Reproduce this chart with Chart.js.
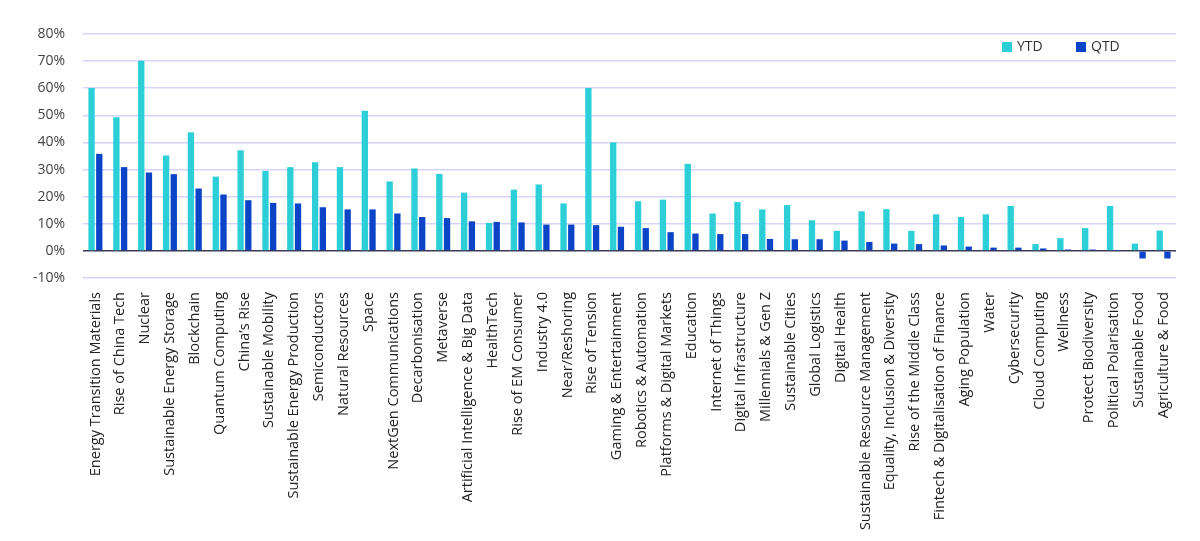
<!DOCTYPE html>
<html>
<head>
<meta charset="utf-8">
<script src="https://cdn.jsdelivr.net/npm/chart.js@4.4.0/dist/chart.umd.min.js"></script>
<style>
  html, body { margin: 0; padding: 0; background: #fff; }
  #wrap { width: 1200px; height: 541px; }
</style>
</head>
<body>
<div id="wrap"><canvas id="themesChart"></canvas></div>
<script>
const themes = [
  'Energy Transition Materials', 'Rise of China Tech', 'Nuclear', 'Sustainable Energy Storage',
  'Blockchain', 'Quantum Computing', 'China\u2019s Rise', 'Sustainable Mobility',
  'Sustainable Energy Production', 'Semiconductors', 'Natural Resources', 'Space',
  'NextGen Communications', 'Decarbonisation', 'Metaverse', 'Artificial Intelligence & Big Data',
  'HealthTech', 'Rise of EM Consumer', 'Industry 4.0', 'Near/Reshoring',
  'Rise of Tension', 'Gaming & Entertainment', 'Robotics & Automation', 'Platforms & Digital Markets',
  'Education', 'Internet of Things', 'Digital Infrastructure', 'Millennials & Gen Z',
  'Sustainable Cities', 'Global Logistics', 'Digital Health', 'Sustainable Resource Management',
  'Equality, Inclusion & Diversity', 'Rise of the Middle Class', 'Fintech & Digitalisation of Finance', 'Aging Population',
  'Water', 'Cybersecurity', 'Cloud Computing', 'Wellness',
  'Protect Biodiversity', 'Political Polarisation', 'Sustainable Food', 'Agriculture & Food'
];

const ytd = [
  60.1, 49.3, 70.1, 35.2, 43.7, 27.4, 37.1, 29.5, 30.9, 32.7, 30.9, 51.7,
  25.6, 30.4, 28.4, 21.5, 10.3, 22.6, 24.5, 17.5, 60.1, 40.0, 18.3, 18.9,
  32.1, 13.8, 18.0, 15.3, 16.9, 11.3, 7.4, 14.6, 15.4, 7.4, 13.5, 12.5,
  13.5, 16.6, 2.5, 4.7, 8.4, 16.6, 2.7, 7.5
];

const qtd = [
  35.8, 30.9, 28.9, 28.3, 23.0, 20.8, 18.7, 17.7, 17.5, 16.1, 15.3, 15.3,
  13.8, 12.5, 12.1, 10.9, 10.7, 10.5, 9.7, 9.7, 9.5, 8.9, 8.4, 6.9,
  6.4, 6.2, 6.2, 4.4, 4.3, 4.3, 3.8, 3.3, 2.7, 2.5, 2.0, 1.6,
  1.2, 1.2, 0.9, 0.5, 0.5, 0.1, -2.8, -2.8
];

const yTicks = [-10, 0, 10, 20, 30, 40, 50, 60, 70, 80];

// legend drawn inside the plot, top right, like the original
const insideLegend = {
  id: 'insideLegend',
  afterDraw(chart) {
    const c = chart.ctx;
    const area = chart.chartArea;
    let x = area.right - 174;
    const y = area.top + 13;
    c.save();
    c.font = '14px "Open Sans"';
    c.textBaseline = 'middle';
    chart.data.datasets.forEach(ds => {
      c.fillStyle = ds.backgroundColor;
      c.fillRect(x, y - 5, 10, 10);
      c.fillStyle = '#333';
      c.fillText(ds.label, x + 15, y);
      x += 74;
    });
    c.restore();
  }
};

const ctx = document.getElementById('themesChart').getContext('2d');
const themesChart = new Chart(ctx, {
  type: 'bar',
  data: {
    labels: themes,
    datasets: [
      {
        label: 'YTD',
        data: ytd,
        backgroundColor: '#2ccfd7',
        categoryPercentage: 0.62,
        barPercentage: 0.82
      },
      {
        label: 'QTD',
        data: qtd,
        backgroundColor: '#0b44c6',
        categoryPercentage: 0.62,
        barPercentage: 0.82
      }
    ]
  },
  plugins: [insideLegend],
  options: {
    responsive: true,
    maintainAspectRatio: false,
    animation: false,
    layout: { padding: { top: 34, right: 24, left: 0, bottom: 0 } },
    plugins: {
      tooltip: { enabled: false },
      legend: { display: false }
    },
    scales: {
      x: {
        grid: { display: false },
        border: { display: false },
        ticks: {
          autoSkip: false,
          minRotation: 90,
          maxRotation: 90,
          padding: 6,
          color: '#222',
          font: { family: 'Open Sans', size: 14.5 }
        },
        afterFit: function(scale) { scale.height = 263; }
      },
      y: {
        min: -10,
        max: 80,
        border: { display: false },
        afterBuildTicks: function(scale) {
          scale.ticks = yTicks.map(v => ({ value: v }));
        },
        grid: {
          drawTicks: false,
          lineWidth: 1.5,
          color: ctx => ctx.tick && ctx.tick.value === 0 ? '#3a3a55' : '#d6d3fb'
        },
        ticks: {
          padding: 18,
          color: '#444',
          font: { family: 'Open Sans', size: 14 },
          callback: v => v + '%'
        },
        afterFit: function(scale) { scale.width = 83; }
      }
    }
  }
});
</script>
</body>
</html>
